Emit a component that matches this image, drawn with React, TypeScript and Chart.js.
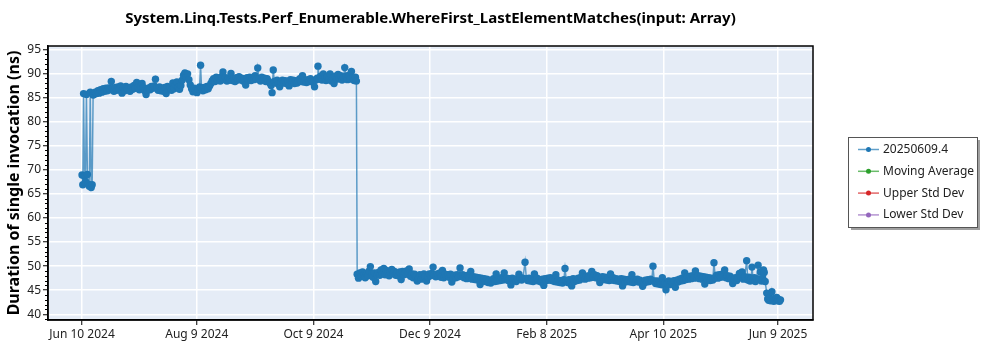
import React, { useEffect, useRef } from "react";
import { Chart, registerables } from "chart.js";

Chart.register(...registerables);

const chartTitle = "System.Linq.Tests.Perf_Enumerable.WhereFirst_LastElementMatches(input: Array)";
const yAxisTitle = "Duration of single invocation (ns)";
const seriesNames = ["20250609.4", "Moving Average", "Upper Std Dev", "Lower Std Dev"];
const seriesColors = ["#1f77b4", "#2ca02c", "#d62728", "#9467bd"];
const seriesLineColors = ["rgba(31,119,180,0.7)", "rgba(44,160,44,0.7)", "rgba(214,39,40,0.7)", "rgba(148,103,189,0.7)"];

// x axis: days since Jun 10 2024
const xTickDays = [0, 60, 121, 182, 243, 304, 364];
const xTickLabels = ["Jun 10 2024", "Aug 9 2024", "Oct 9 2024", "Dec 9 2024", "Feb 8 2025", "Apr 10 2025", "Jun 9 2025"];
const yTickValues = [40, 45, 50, 55, 60, 65, 70, 75, 80, 85, 90, 95];

// [day since Jun 10 2024, duration ns]
const runsJun2024: [number, number][] = [
  [0, 68.9], [0.4, 66.9], [0.8, 85.8], [1.3, 68.7], [1.8, 67.5], [2.3, 85.6], [2.8, 69.0], [3.3, 67.0],
  [3.8, 66.6], [4.3, 86.1], [4.8, 66.3], [5.3, 66.9], [5.8, 85.5],
];

const runsJunAug2024: [number, number][] = [
  [6.2, 85.6], [6.9, 86.1], [7.6, 85.8], [8.3, 86.4], [9.0, 85.9], [9.7, 86.6], [10.4, 86.1], [11.1, 86.8],
  [11.8, 86.3], [12.5, 86.9], [13.2, 86.4], [13.9, 87.0], [14.6, 86.6], [15.3, 88.3], [16.0, 86.8], [16.7, 86.3],
  [17.4, 87.1], [18.1, 86.5], [18.8, 87.2], [19.5, 86.6], [20.2, 87.4], [20.9, 85.9], [21.6, 87.1], [22.3, 86.4],
  [23.0, 87.3], [23.7, 86.8], [24.4, 87.0], [25.1, 86.3], [25.8, 87.2], [26.5, 86.7], [27.2, 87.5], [27.9, 86.9],
  [28.6, 88.1], [29.3, 87.0], [30.0, 86.6], [30.7, 87.3], [31.4, 87.9], [32.1, 87.1], [32.8, 86.4], [33.5, 85.6],
  [34.2, 86.5], [34.9, 87.0], [35.6, 86.6], [36.3, 87.3], [37.0, 86.9], [37.7, 87.4], [38.4, 88.8], [39.1, 87.0],
  [39.8, 86.5], [40.5, 87.2], [41.2, 86.4], [41.9, 86.9], [42.6, 86.3], [43.3, 87.1], [44.0, 85.8], [44.7, 87.3],
  [45.4, 86.7], [46.1, 87.0], [46.8, 86.5], [47.5, 88.0], [48.2, 86.8], [48.9, 87.6], [49.6, 88.2], [50.3, 87.1],
  [51.0, 86.7], [51.7, 87.5], [52.4, 88.6], [53.1, 89.6], [53.8, 90.1], [54.5, 89.3], [55.2, 89.9], [55.9, 88.7],
  [56.6, 87.6], [57.3, 86.8], [58.0, 86.2], [58.7, 86.9], [59.4, 86.4], [60.1, 86.0], [60.8, 86.7], [61.5, 87.2],
  [62.0, 91.7], [62.5, 87.0], [63.2, 86.4], [63.9, 87.1], [64.6, 86.6], [65.3, 87.3], [66.0, 86.8], [66.7, 87.4],
  [67.4, 87.9], [68.1, 88.5],
];

const runsAugOct2024: [number, number][] = [
  [68.8, 88.9], [69.5, 88.3], [70.2, 89.2], [70.9, 88.5], [71.6, 89.0], [72.3, 88.4], [73.0, 89.3], [73.7, 90.3],
  [74.4, 88.7], [75.1, 89.1], [75.8, 88.4], [76.5, 89.0], [77.2, 88.6], [77.9, 90.0], [78.6, 88.5], [79.3, 88.9],
  [80.0, 88.3], [80.7, 89.1], [81.4, 88.6], [82.1, 89.3], [82.8, 88.7], [83.5, 89.0], [84.2, 88.4], [84.9, 88.9],
  [85.6, 87.6], [86.3, 89.1], [87.0, 88.6], [87.7, 89.2], [88.4, 88.5], [89.1, 89.0], [89.8, 88.7], [90.5, 89.5],
  [91.2, 88.8], [91.9, 91.1], [92.6, 88.9], [93.3, 88.4], [94.0, 89.2], [94.7, 88.6], [95.4, 89.0], [96.1, 88.3],
  [96.8, 88.9], [97.5, 88.4], [98.2, 88.0], [98.9, 87.5], [99.4, 86.0], [100.0, 90.7], [100.6, 88.3], [101.3, 88.0],
  [102.0, 88.6], [102.7, 87.8], [103.4, 87.2], [104.1, 88.2], [104.8, 88.6], [105.5, 88.0], [106.2, 88.5], [106.9, 87.9],
  [107.6, 88.4], [108.3, 87.4], [109.0, 88.7], [109.7, 88.2], [110.4, 88.6], [111.1, 87.9], [111.8, 88.5], [112.5, 88.0],
  [113.2, 88.4], [113.9, 88.9], [114.6, 88.3], [115.3, 89.5], [116.0, 88.2], [116.7, 88.6], [117.4, 88.1], [118.1, 88.7],
  [118.8, 88.3], [119.5, 88.9], [120.2, 88.4], [120.9, 88.1], [121.6, 87.2], [122.3, 88.6], [123.0, 89.0], [123.4, 91.5],
  [124.1, 88.8], [124.8, 89.4], [125.5, 88.6], [126.2, 89.9], [126.9, 88.9], [127.6, 88.5], [128.3, 89.3], [129.0, 88.7],
  [129.7, 89.9], [130.4, 88.4], [131.1, 89.0], [131.8, 87.9], [132.5, 89.4], [133.2, 88.8], [133.9, 89.8], [134.6, 88.9],
  [135.3, 89.5], [136.0, 88.6], [136.7, 89.2], [137.4, 91.2], [138.1, 89.4], [138.8, 88.7], [139.5, 89.6], [140.2, 88.8],
  [140.9, 90.4], [141.6, 89.0], [142.3, 88.5], [143.0, 89.2], [143.5, 88.4],
];

const runsNovJan: [number, number][] = [
  [143.9, 48.3], [144.6, 47.5], [145.3, 48.6], [146.0, 47.9], [146.7, 48.8], [147.4, 48.1], [148.1, 47.6], [148.8, 48.5],
  [149.5, 48.0], [150.2, 49.0], [150.8, 49.9], [151.5, 48.3], [152.2, 47.7], [152.9, 48.6], [153.6, 46.8], [154.3, 48.2],
  [155.0, 48.7], [155.7, 48.1], [156.4, 49.2], [157.1, 48.4], [157.8, 49.5], [158.5, 48.2], [159.2, 49.1], [159.9, 48.5],
  [160.6, 48.0], [161.3, 48.7], [162.0, 49.3], [162.7, 48.4], [163.4, 48.9], [164.1, 48.1], [164.8, 48.6], [165.5, 48.0],
  [166.2, 48.8], [166.9, 47.2], [167.6, 48.9], [168.3, 48.2], [169.0, 48.7], [169.7, 49.0], [170.4, 48.3], [171.1, 49.4],
  [171.8, 47.9], [172.5, 48.4], [173.2, 47.6], [173.9, 48.3], [174.6, 47.8], [175.3, 46.9], [176.0, 47.5], [176.7, 48.2],
  [177.4, 47.3], [178.1, 48.0], [178.8, 48.4], [179.5, 47.8], [180.2, 46.9], [180.9, 47.7], [181.6, 48.4], [182.3, 48.0],
  [183.0, 48.5], [183.6, 49.8], [184.3, 48.2], [185.0, 47.8], [185.7, 48.4], [186.4, 48.0], [187.1, 48.6], [187.8, 47.7],
  [188.5, 49.1], [189.2, 47.6], [189.9, 48.3], [190.6, 47.9], [191.3, 48.2], [192.0, 47.7], [192.7, 48.3], [193.4, 46.7],
  [194.1, 47.5], [194.8, 48.1], [195.5, 47.6], [196.2, 48.2], [196.9, 47.8], [197.7, 49.6], [198.4, 47.9], [199.1, 48.2],
  [199.8, 47.6], [200.5, 48.0], [201.2, 47.4], [201.9, 48.1], [202.6, 47.6], [203.3, 48.9], [204.0, 47.3], [204.7, 47.8],
  [205.4, 47.2], [206.1, 47.7], [206.8, 47.1], [207.5, 47.6], [208.2, 46.2], [208.9, 47.5], [209.6, 46.9], [210.3, 47.4],
  [211.0, 46.8], [211.7, 47.3], [212.4, 46.6], [213.1, 47.1], [213.8, 46.5], [214.5, 47.0], [215.2, 47.4], [215.9, 46.8],
  [216.6, 48.4], [217.3, 46.9], [218.0, 47.5], [218.7, 47.0], [219.4, 47.6], [220.1, 47.1], [220.8, 48.6], [221.5, 47.2],
  [222.2, 47.5], [222.9, 47.0], [223.6, 47.4], [224.3, 46.1], [225.0, 47.5], [225.7, 47.0], [226.4, 47.3], [227.1, 46.8],
  [227.8, 47.4], [228.5, 48.3], [229.2, 47.6], [229.9, 47.1], [230.6, 47.5], [231.7, 50.8],
];

const runsFebMay2025: [number, number][] = [
  [232.4, 47.4], [233.1, 47.0], [233.8, 47.5], [234.5, 46.9], [235.2, 47.3], [235.9, 46.8], [236.6, 48.4], [237.3, 47.0],
  [238.0, 47.5], [238.7, 46.9], [239.4, 47.2], [240.1, 46.7], [240.8, 47.3], [241.5, 46.0], [242.2, 47.4], [242.9, 47.0],
  [243.6, 47.5], [244.3, 47.1], [245.0, 47.6], [245.7, 47.0], [246.4, 47.3], [247.1, 46.8], [247.8, 48.2], [248.5, 46.7],
  [249.2, 47.1], [249.9, 46.6], [250.6, 47.0], [251.3, 46.5], [252.0, 47.2], [252.6, 49.5], [253.3, 47.0], [254.0, 46.6],
  [254.7, 47.2], [255.4, 46.4], [256.1, 45.9], [256.8, 47.4], [257.5, 46.8], [258.2, 47.3], [258.9, 47.0], [259.6, 47.5],
  [260.3, 47.1], [261.0, 47.7], [261.7, 48.6], [262.4, 47.8], [263.1, 47.3], [263.8, 47.9], [264.5, 47.5], [265.2, 48.0],
  [265.9, 47.6], [266.6, 48.9], [267.3, 47.7], [268.0, 48.2], [268.7, 47.6], [269.4, 48.0], [270.1, 47.5], [270.8, 46.6],
  [271.5, 47.3], [272.2, 47.8], [272.9, 47.2], [273.6, 47.7], [274.3, 47.1], [275.0, 47.6], [275.7, 47.0], [276.4, 48.4],
  [277.1, 47.1], [277.8, 47.6], [278.5, 47.0], [279.2, 47.4], [279.9, 46.9], [280.6, 47.3], [281.3, 46.8], [282.0, 47.4],
  [282.7, 45.9], [283.4, 47.3], [284.1, 46.7], [284.8, 47.2], [285.5, 46.8], [286.2, 47.3], [286.9, 46.7], [287.6, 48.2],
  [288.3, 46.6], [289.0, 47.2], [289.7, 46.8], [290.4, 47.3], [291.1, 46.7], [291.8, 47.1], [292.5, 46.6], [293.2, 45.8],
  [293.9, 46.5], [294.6, 47.1], [295.3, 46.7], [296.0, 47.2], [296.7, 46.8], [297.4, 47.3], [298.0, 47.0], [298.6, 50.0],
  [299.3, 46.9], [300.0, 46.4], [300.7, 46.9], [301.4, 46.3], [302.1, 46.8], [302.8, 46.2], [303.5, 47.6], [304.2, 46.1],
  [304.9, 46.5], [305.4, 45.1], [306.1, 46.4], [306.8, 46.9], [307.5, 46.2], [308.2, 46.8], [308.9, 46.4], [309.6, 47.0],
  [310.3, 45.6], [311.0, 47.1], [311.7, 46.7], [312.4, 47.3], [313.1, 46.9], [313.8, 47.5], [314.5, 47.0], [315.2, 48.6],
  [315.9, 47.2], [316.6, 47.8], [317.3, 47.3], [318.0, 47.9], [318.7, 47.4], [319.4, 48.0], [320.1, 47.5], [320.8, 49.0],
  [321.5, 47.6], [322.2, 48.0], [322.9, 47.4], [323.6, 47.9], [324.3, 47.3], [325.0, 47.8], [325.7, 46.3], [326.4, 47.7],
  [327.1, 47.1], [327.8, 47.6], [328.5, 47.0], [329.2, 47.5], [329.9, 47.1], [330.5, 50.7], [331.2, 47.6], [331.9, 48.1],
  [332.6, 47.5], [333.3, 48.2], [334.0, 47.7], [334.7, 48.3], [335.4, 47.8], [336.1, 49.2], [336.8, 47.6], [337.5, 48.0],
  [338.2, 47.4], [338.9, 47.9], [339.6, 47.3], [340.3, 46.4], [341.0, 47.2], [341.7, 47.6], [342.4, 47.0], [343.1, 47.5],
  [343.8, 48.5], [344.5, 47.8], [345.2, 48.8], [345.9, 47.3], [346.6, 47.8], [347.6, 51.1], [348.2, 47.1], [348.8, 47.7],
  [349.4, 46.9], [350.0, 47.5], [350.4, 49.8], [351.0, 47.0], [351.6, 47.6], [352.2, 46.8], [352.8, 47.4], [353.6, 50.2],
  [354.2, 47.2], [354.8, 48.8], [355.4, 46.9], [356.0, 47.5], [356.4, 49.2], [356.8, 48.7], [357.3, 46.8],
];

const runsJun2025: [number, number][] = [
  [358.1, 44.4], [358.6, 43.2], [359.1, 42.9], [359.6, 43.4], [360.1, 42.8], [360.8, 44.7], [361.3, 43.1], [361.8, 42.7],
  [362.3, 43.3], [362.8, 42.9], [363.3, 43.5], [363.8, 42.8], [364.3, 43.1], [364.8, 42.7], [365.3, 43.0],
];

const FONT = "'Noto Sans', 'DejaVu Sans', sans-serif";

const decorPlugin = {
  id: "decor",
  beforeDraw(chart: any) {
    const { ctx, chartArea } = chart;
    ctx.save();
    ctx.fillStyle = "#ffffff";
    ctx.fillRect(0, 0, chart.width, chart.height);
    ctx.fillStyle = "#e5ecf6";
    ctx.fillRect(chartArea.left, chartArea.top, chartArea.right - chartArea.left, chartArea.bottom - chartArea.top);
    ctx.restore();
  },
  afterDraw(chart: any) {
    const { ctx, chartArea } = chart;
    const y = chart.scales.y;
    ctx.save();
    // frame
    ctx.strokeStyle = "#000000";
    ctx.lineWidth = 1.5;
    ctx.strokeRect(chartArea.left, chartArea.top, chartArea.right - chartArea.left, chartArea.bottom - chartArea.top);
    // minor ticks on y
    ctx.lineWidth = 1;
    ctx.beginPath();
    for (let v = Math.ceil(y.min); v <= y.max; v++) {
      if (v % 5 === 0) continue;
      const py = Math.round(y.getPixelForValue(v)) + 0.5;
      ctx.moveTo(chartArea.left - 3, py);
      ctx.lineTo(chartArea.left, py);
    }
    ctx.stroke();
    // title
    ctx.fillStyle = "#000000";
    ctx.font = `bold 15px ${FONT}`;
    ctx.textAlign = "center";
    ctx.textBaseline = "middle";
    ctx.fillText(chartTitle, (chartArea.left + chartArea.right) / 2, 19);
    // y axis title
    ctx.save();
    ctx.translate(14, (chartArea.top + chartArea.bottom) / 2);
    ctx.rotate(-Math.PI / 2);
    ctx.font = `bold 16px ${FONT}`;
    ctx.fillText(yAxisTitle, 0, 0);
    ctx.restore();
    // legend
    const bx = 848, by = 137, bw = 129, bh = 90;
    ctx.fillStyle = "#a0a0a0";
    ctx.fillRect(bx + 3, by + 3, bw, bh);
    ctx.fillStyle = "#ffffff";
    ctx.fillRect(bx, by, bw, bh);
    ctx.strokeStyle = "#555555";
    ctx.lineWidth = 1;
    ctx.strokeRect(bx + 0.5, by + 0.5, bw, bh);
    ctx.font = `12px ${FONT}`;
    ctx.textAlign = "left";
    ctx.textBaseline = "middle";
    chart.data.datasets.forEach((ds: any, i: number) => {
      const ly = by + 12.5 + i * 21.8;
      ctx.strokeStyle = seriesLineColors[i];
      ctx.lineWidth = 1.5;
      ctx.beginPath();
      ctx.moveTo(bx + 10, ly);
      ctx.lineTo(bx + 31, ly);
      ctx.stroke();
      ctx.fillStyle = seriesColors[i];
      ctx.beginPath();
      ctx.arc(bx + 20.5, ly, 2.5, 0, Math.PI * 2);
      ctx.fill();
      ctx.fillStyle = "#222222";
      ctx.fillText(ds.label, bx + 35, ly);
    });
    ctx.restore();
  },
};

export default function App() {
  const canvasRef = useRef<HTMLCanvasElement | null>(null);

  useEffect(() => {
    if (!canvasRef.current) return;
    const allRuns = [...runsJun2024, ...runsJunAug2024, ...runsAugOct2024, ...runsNovJan, ...runsFebMay2025, ...runsJun2025];
    const mainPoints = allRuns.map(([d, v]) => ({ x: d, y: v }));
    const chart = new Chart(canvasRef.current, {
      type: "line",
      data: {
        datasets: seriesNames.map((name, i) => ({
          label: name,
          data: i === 0 ? mainPoints : [],
          borderColor: seriesLineColors[i],
          backgroundColor: seriesColors[i],
          pointBackgroundColor: seriesColors[i],
          pointBorderWidth: 0,
          pointRadius: 3.7,
          borderWidth: 1.5,
          tension: 0,
          fill: false,
        })),
      },
      options: {
        animation: false,
        responsive: false,
        maintainAspectRatio: false,
        layout: { padding: { left: 0, right: 187, top: 46, bottom: 0 } },
        plugins: {
          legend: { display: false },
          title: { display: false },
          tooltip: { enabled: false },
        },
        scales: {
          x: {
            type: "linear",
            min: -17.8,
            max: 382.3,
            afterFit: (scale: any) => {
              scale.height = 30;
            },
            afterBuildTicks: (scale: any) => {
              scale.ticks = xTickDays.map((v) => ({ value: v }));
            },
            ticks: {
              autoSkip: false,
              maxRotation: 0,
              padding: 2,
              color: "#222222",
              font: { family: FONT, size: 12 },
              callback: (value: any) => {
                const idx = xTickDays.indexOf(Number(value));
                return idx >= 0 ? xTickLabels[idx] : "";
              },
            },
            grid: {
              color: "#ffffff",
              lineWidth: 1.5,
              drawTicks: true,
              tickLength: 5,
              tickColor: "#000000",
              tickWidth: 1,
            },
            border: { display: true, color: "#000000", width: 1.5 },
          },
          y: {
            type: "linear",
            min: 38.82,
            max: 95.68,
            afterFit: (scale: any) => {
              scale.width = 48;
            },
            afterBuildTicks: (scale: any) => {
              scale.ticks = yTickValues.map((v) => ({ value: v }));
            },
            ticks: {
              autoSkip: false,
              padding: 2,
              color: "#222222",
              font: { family: FONT, size: 12 },
            },
            grid: {
              color: "#ffffff",
              lineWidth: 1.5,
              drawTicks: true,
              tickLength: 5,
              tickColor: "#000000",
              tickWidth: 1,
            },
            border: { display: true, color: "#000000", width: 1.5 },
          },
        },
      },
      plugins: [decorPlugin],
    });
    return () => chart.destroy();
  }, []);

  return (
    <div style={{ position: "fixed", left: 0, top: 0, width: 1000, height: 350, background: "#ffffff" }}>
      <canvas ref={canvasRef} width={1000} height={350} style={{ width: 1000, height: 350, display: "block" }} />
    </div>
  );
}
